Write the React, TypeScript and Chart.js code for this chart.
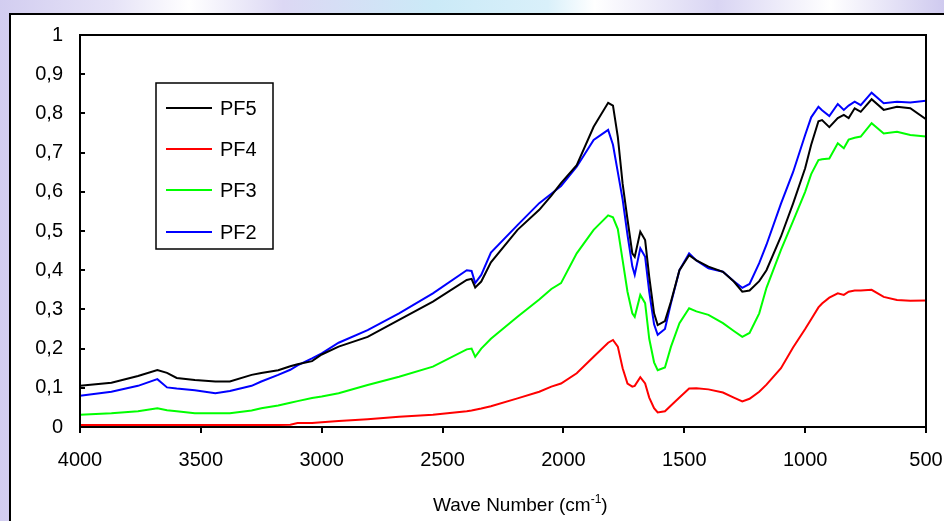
import React, { useEffect, useRef } from "react";
import { Chart, registerables } from "chart.js";

Chart.register(...registerables);

const wavenumbers = [
  4000, 3870, 3760, 3680, 3640, 3600, 3525, 3440, 3380, 3290, 3250, 3180, 3130, 3100, 3040, 3000,
  2930, 2810, 2680, 2540, 2400, 2380, 2365, 2340, 2300, 2190, 2100, 2050, 2010, 1945, 1875, 1815,
  1795, 1775, 1755, 1735, 1715, 1705, 1682, 1662, 1645, 1625, 1610, 1580, 1555, 1520, 1480, 1450,
  1400, 1340, 1295, 1260, 1230, 1190, 1160, 1100, 1050, 1000, 975, 945, 930, 900, 865, 840, 820,
  795, 770, 725, 675, 620, 565, 500,
];

const pf5 = [
  0.105, 0.113, 0.13, 0.145, 0.138, 0.125, 0.12, 0.116, 0.116, 0.133, 0.138, 0.145, 0.155, 0.16, 0.168, 0.185,
  0.205, 0.23, 0.273, 0.32, 0.375, 0.378, 0.356, 0.371, 0.42, 0.503, 0.554, 0.59, 0.622, 0.668, 0.766, 0.827,
  0.82, 0.74, 0.62, 0.53, 0.443, 0.434, 0.498, 0.477, 0.383, 0.29, 0.26, 0.27, 0.32, 0.4, 0.438, 0.425,
  0.409, 0.396, 0.371, 0.345, 0.348, 0.372, 0.4, 0.486, 0.57, 0.66, 0.72, 0.78, 0.783, 0.765, 0.788, 0.796, 0.788,
  0.813, 0.804, 0.836, 0.809, 0.817, 0.813, 0.785,
];

const pf4 = [
  0.005, 0.005, 0.005, 0.005, 0.005, 0.005, 0.005, 0.005, 0.005, 0.005, 0.005, 0.005, 0.006, 0.01, 0.01, 0.012,
  0.015, 0.02, 0.026, 0.031, 0.04, 0.042, 0.044, 0.047, 0.053, 0.073, 0.09, 0.103, 0.111, 0.137, 0.179, 0.215,
  0.222, 0.205, 0.15, 0.111, 0.103, 0.105, 0.127, 0.111, 0.075, 0.048, 0.037, 0.04, 0.055, 0.075, 0.098, 0.099,
  0.096, 0.088, 0.075, 0.065, 0.072, 0.09, 0.108, 0.15, 0.203, 0.25, 0.275, 0.305, 0.315, 0.33, 0.341, 0.337, 0.345,
  0.348, 0.348, 0.35, 0.332, 0.324, 0.322, 0.323,
];

const pf3 = [
  0.031, 0.035, 0.04, 0.048, 0.043, 0.04, 0.035, 0.035, 0.035, 0.042, 0.048, 0.055, 0.062, 0.066, 0.074, 0.078,
  0.086, 0.107, 0.128, 0.154, 0.198, 0.2, 0.179, 0.2, 0.225, 0.281, 0.325, 0.352, 0.367, 0.443, 0.503, 0.54,
  0.535, 0.505, 0.425, 0.345, 0.29, 0.281, 0.337, 0.316, 0.225, 0.165, 0.145, 0.152, 0.205, 0.265, 0.303, 0.295,
  0.286, 0.265, 0.245, 0.23, 0.24, 0.29, 0.355, 0.452, 0.525, 0.6, 0.645, 0.681, 0.683, 0.685, 0.724, 0.711, 0.733,
  0.738, 0.741, 0.775, 0.749, 0.753, 0.745, 0.741,
];

const pf2 = [
  0.08, 0.09, 0.105, 0.122, 0.101, 0.098, 0.094, 0.086, 0.092, 0.105, 0.116, 0.133, 0.146, 0.157, 0.175, 0.188,
  0.215, 0.247, 0.29, 0.341, 0.4, 0.398, 0.367, 0.388, 0.445, 0.515, 0.571, 0.595, 0.615, 0.664, 0.732, 0.758,
  0.72, 0.65, 0.58, 0.49, 0.41, 0.388, 0.456, 0.434, 0.345, 0.262, 0.235, 0.25, 0.316, 0.4, 0.443, 0.425,
  0.405, 0.396, 0.372, 0.355, 0.365, 0.418, 0.465, 0.57, 0.65, 0.745, 0.79, 0.817, 0.808, 0.793, 0.824, 0.809, 0.82,
  0.83, 0.821, 0.853, 0.826, 0.83, 0.828, 0.832,
];

const seriesLabels = ["PF5", "PF4", "PF3", "PF2"];
const seriesColors = ["#000000", "#ff0000", "#00ff00", "#0000ff"];
const xTickValues = [4000, 3500, 3000, 2500, 2000, 1500, 1000, 500];
const FONT = "'Liberation Sans', Arial, sans-serif";

const overlayPlugin = {
  id: "overlay",
  afterDraw(chart: any) {
    const { ctx, chartArea: a, scales } = chart;
    ctx.save();
    ctx.strokeStyle = "#000";
    ctx.lineWidth = 2;
    ctx.strokeRect(a.left, a.top, a.right - a.left, a.bottom - a.top);
    const ys = scales.y;
    ys.ticks.forEach((t: any) => {
      const py = Math.round(ys.getPixelForValue(t.value));
      ctx.beginPath();
      ctx.moveTo(a.left, py);
      ctx.lineTo(a.left + 5, py);
      ctx.stroke();
    });
    const lx = 156, ly = 83, lw = 117, lh = 166;
    ctx.fillStyle = "#fff";
    ctx.fillRect(lx, ly, lw, lh);
    ctx.lineWidth = 1.5;
    ctx.strokeRect(lx, ly, lw, lh);
    const rows = [108, 149, 190, 232];
    ctx.font = `20px ${FONT}`;
    ctx.textBaseline = "middle";
    ctx.textAlign = "left";
    chart.data.datasets.forEach((ds: any, i: number) => {
      ctx.strokeStyle = ds.borderColor;
      ctx.lineWidth = 2;
      ctx.beginPath();
      ctx.moveTo(166, rows[i]);
      ctx.lineTo(212, rows[i]);
      ctx.stroke();
      ctx.fillStyle = "#000";
      ctx.fillText(ds.label, 220, rows[i] + 1);
    });
    ctx.textBaseline = "alphabetic";
    ctx.fillStyle = "#000";
    ctx.font = `19px ${FONT}`;
    const main = "Wave Number (cm";
    let x = 433;
    const by = 511;
    ctx.fillText(main, x, by);
    x += ctx.measureText(main).width;
    ctx.font = `12px ${FONT}`;
    ctx.fillText("-1", x, by - 8);
    x += ctx.measureText("-1").width;
    ctx.font = `19px ${FONT}`;
    ctx.fillText(")", x, by);
    ctx.restore();
  },
};

export default function App() {
  const ref = useRef<HTMLCanvasElement | null>(null);
  useEffect(() => {
    if (!ref.current) return;
    const all = [pf5, pf4, pf3, pf2];
    const chart = new Chart(ref.current, {
      type: "line",
      data: {
        datasets: all.map((s, i) => ({
          label: seriesLabels[i],
          data: wavenumbers.map((w, j) => ({ x: w, y: s[j] })),
          borderColor: seriesColors[i],
          backgroundColor: seriesColors[i],
          borderWidth: 2,
          pointRadius: 0,
          tension: 0,
          fill: false,
        })),
      },
      options: {
        responsive: false,
        animation: false,
        layout: { padding: { top: 35, right: 18, left: 0, bottom: 0 } },
        plugins: { legend: { display: false }, tooltip: { enabled: false } },
        scales: {
          x: {
            type: "linear",
            reverse: true,
            min: 500,
            max: 4000,
            afterFit: (s: any) => {
              s.height = 94;
              s.paddingLeft = 0;
              s.paddingRight = 0;
            },
            afterBuildTicks: (s: any) => {
              s.ticks = xTickValues.map((v) => ({ value: v }));
            },
            border: { display: false },
            grid: {
              display: true,
              drawOnChartArea: false,
              drawTicks: true,
              tickLength: 6,
              color: "#000",
              lineWidth: 2,
            },
            ticks: {
              autoSkip: false,
              maxRotation: 0,
              padding: 15,
              color: "#000",
              font: { family: FONT, size: 20 },
              callback: (v: any) => String(v),
            },
          },
          y: {
            min: 0,
            max: 1,
            afterFit: (s: any) => {
              s.width = 80;
              s.paddingTop = 0;
              s.paddingBottom = 0;
            },
            border: { display: false },
            grid: { display: false, drawTicks: false },
            ticks: {
              stepSize: 0.1,
              padding: 17,
              color: "#000",
              font: { family: FONT, size: 20 },
              callback: (v: any) => {
                const n = Number(v);
                if (Math.abs(n) < 1e-9) return "0";
                if (Math.abs(n - 1) < 1e-9) return "1";
                return n.toFixed(1).replace(".", ",");
              },
            },
          },
        },
      },
      plugins: [overlayPlugin],
    });
    return () => chart.destroy();
  }, []);

  return (
    <div
      style={{
        position: "fixed",
        left: 0,
        top: 0,
        width: 944,
        height: 521,
        overflow: "hidden",
        background:
          "linear-gradient(90deg, #d2cdf0 0%, #e6e3f7 12%, #ffffff 20%, #dcd8f4 30%, #cbeaf7 46%, #d9f0fa 58%, #ffffff 63%, #d9d5f3 76%, #ffffff 88%, #cfcaef 100%)",
      }}
    >
      <div
        style={{
          position: "absolute",
          left: 9,
          top: 13,
          right: -60,
          bottom: -60,
          background: "#fff",
          borderLeft: "2.5px solid #000",
          borderTop: "2.5px solid #000",
        }}
      />
      <canvas
        ref={ref}
        width={944}
        height={521}
        style={{ position: "absolute", left: 0, top: 0, width: 944, height: 521 }}
      />
    </div>
  );
}
